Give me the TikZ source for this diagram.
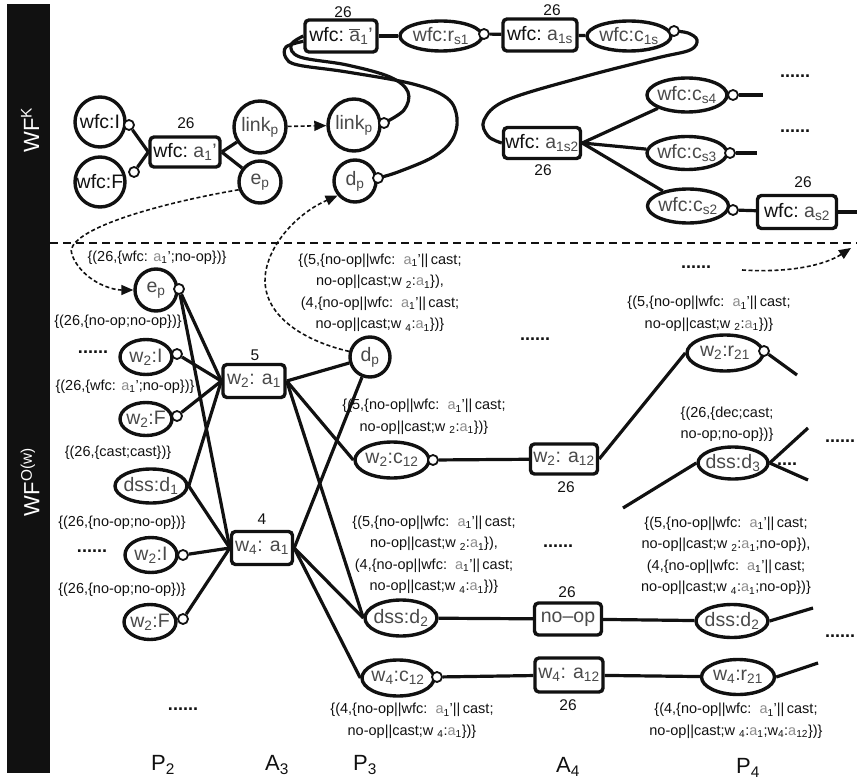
\documentclass[tikz,border=0pt]{standalone}
\usepackage{fontspec}
\setmainfont{Liberation Sans}
\usetikzlibrary{shapes.geometric,arrows.meta,backgrounds}
\definecolor{ink}{HTML}{111111}
\definecolor{ngray}{HTML}{4A4A4A}
\definecolor{lgray}{HTML}{8C8C8C}
\newcommand\sbs[1]{\textsubscript{#1}}
\newcommand\gtx[1]{\textcolor{ngray}{#1}}
\newcommand\aone{\textcolor{lgray}{a}\sbs{1}}
\newcommand\parline{no-op||wfc:\ \ \aone’||\,cast;}
\tikzset{
  every node/.style={inner sep=0pt, text=ink, font=\fontsize{19.5}{22}\selectfont},
  circ/.style={circle, draw=ink, line width=3.4pt, fill=white, minimum size=#1pt},
  oval/.style n args={2}{ellipse, draw=ink, line width=3.4pt, fill=white, inner sep=-5pt,
    minimum width=#1pt, minimum height=#2pt},
  tbox/.style n args={2}{rectangle, rounded corners=4pt, draw=ink, line width=3.4pt,
    fill=white, minimum width=#1pt, minimum height=#2pt},
  port/.style={circle, draw=ink, line width=1.8pt, fill=white, minimum size=10pt},
  conn/.style={draw=ink, line width=3.2pt},
  flow/.style={draw=ink, line width=1.6pt, dash pattern=on 4pt off 2.5pt,
    -{Triangle[length=12pt,width=10pt]}},
  note/.style={font=\fontsize{14.5}{21.5}\selectfont, align=center},
  num/.style={font=\fontsize{15.5}{17}\selectfont},
  dotrow/.style={font=\fontsize{18}{20}\selectfont\bfseries},
  lane/.style={font=\fontsize{22}{24}\selectfont},
  side/.style={rotate=90, text=white, font=\fontsize{22}{24}\selectfont}
}
\begin{document}
\begin{tikzpicture}[x=1pt,y=-1pt]
\useasboundingbox (0,0) rectangle (857,781);

% side bar and lane separator
\fill[ink] (7,4) rectangle (50,773);
\node[side] (wfk) at (30,130) {WF\textsuperscript{K}};
\node[side] (wfo) at (30,482) {WF\textsuperscript{O(w)}};
\draw[ink, line width=1.6pt, dash pattern=on 8pt off 5pt] (50,243) -- (857,243);

% ---------- upper workflow ----------
\node[circ=50] (wfcI) at (100,122) {wfc:I};
\node[circ=50] (wfcF) at (100,182) {wfc:F};
\node[tbox={70}{30}] (ka1) at (185,152) {wfc:\ \gtx{a\sbs{1}’}};
\node[num] (ka1n) at (186,123) {26};
\node[circ=52] (linkA) at (260,127) {\gtx{link\sbs{p}}};
\node[circ=42] (epA) at (260,182) {\gtx{e\sbs{p}}};
\node[circ=52] (linkB) at (354,125) {\gtx{link\sbs{p}}};
\node[circ=42] (dpA) at (355,181) {\gtx{d\sbs{p}}};

\node[tbox={72}{32}] (tA) at (341,36) {wfc:\ \gtx{$\overline{\mbox{a}}$\sbs{1}’}};
\node[num] (tAn) at (343,12) {26};
\node[oval={82}{30}] (rs1) at (441,36) {\gtx{wfc:r\sbs{s1}}};
\node[tbox={74}{32}] (a1s) at (540,35) {wfc:\ \gtx{a\sbs{1s}}};
\node[num] (a1sn) at (552,10) {26};
\node[oval={84}{30}] (c1s) at (629,36) {\gtx{wfc:c\sbs{1s}}};
\node[tbox={77}{31}] (a1s2) at (542,143) {wfc:\ \gtx{a\sbs{1s2}}};
\node[num] (a1s2n) at (543,170) {26};
\node[oval={80}{34}] (cs4) at (687,95) {\gtx{wfc:c\sbs{s4}}};
\node[oval={80}{33}] (cs3) at (687,153) {\gtx{wfc:c\sbs{s3}}};
\node[oval={81}{34}] (cs2) at (688,206) {\gtx{wfc:c\sbs{s2}}};
\node[tbox={79}{33}] (as2) at (797,212) {wfc:\ \gtx{a\sbs{s2}}};
\node[num] (as2n) at (803,182) {26};
\node[dotrow] (dots1) at (795,76) {......};
\node[dotrow] (dots2) at (795,131) {......};

% ---------- lower workflow ----------
\node[circ=42] (epB) at (156,290) {\gtx{e\sbs{p}}};
\node[oval={52}{35}] (w2I) at (146,357) {\gtx{w\sbs{2}:I}};
\node[oval={52}{33}] (w2F) at (146,419) {\gtx{w\sbs{2}:F}};
\node[oval={72}{34}] (d1) at (151,486) {\gtx{dss:d\sbs{1}}};
\node[oval={52}{35}] (w2Ib) at (151,555) {\gtx{w\sbs{2}:I}};
\node[oval={52}{35}] (w2Fb) at (150,622) {\gtx{w\sbs{2}:F}};
\node[tbox={62}{33}] (w2a1) at (254,381) {\gtx{w\sbs{2}: a\sbs{1}}};
\node[num] (w2a1n) at (255,355) {5};
\node[tbox={61}{33}] (w4a1) at (262,548) {\gtx{w\sbs{4}: a\sbs{1}}};
\node[num] (w4a1n) at (262,519) {4};
\node[circ=40] (dpB) at (370,357) {\gtx{d\sbs{p}}};
\node[oval={74}{36}] (w2c12) at (392,460) {\gtx{w\sbs{2}:c\sbs{12}}};
\node[tbox={67}{30}] (w2a12) at (564,459) {\gtx{w\sbs{2}: a\sbs{12}}};
\node[num] (w2a12n) at (566,487) {26};
\node[oval={76}{36}] (w2r21) at (725,353) {\gtx{w\sbs{2}:r\sbs{21}}};
\node[oval={70}{32}] (d3) at (733,463) {\gtx{dss:d\sbs{3}}};
\node[oval={72}{36}] (d2) at (401,618) {\gtx{dss:d\sbs{2}}};
\node[tbox={67}{32}] (noop) at (568,619) {\gtx{no–op}};
\node[num] (noopn) at (567,592) {26};
\node[oval={72}{33}] (d2b) at (732,621) {\gtx{dss:d\sbs{2}}};
\node[oval={72}{36}] (w4c12) at (398,678) {\gtx{w\sbs{4}:c\sbs{12}}};
\node[tbox={68}{34}] (w4a12) at (569,675) {\gtx{w\sbs{4}: a\sbs{12}}};
\node[num] (w4a12n) at (568,705) {26};
\node[oval={73}{35}] (w4r21) at (738,677) {\gtx{w\sbs{4}:r\sbs{21}}};

% connector ports
\node[port] (pI) at (129,125) {};
\node[port] (pF) at (134,172) {};
\node[port] (pLB) at (384,123) {};
\node[port] (pDA) at (378,178) {};
\node[port] (pR) at (484,34) {};
\node[port] (pC) at (674,31) {};
\node[port] (pS4) at (733,95) {};
\node[port] (pS3) at (730,153) {};
\node[port] (pS2) at (733,210) {};
\node[port] (pE) at (179,289) {};
\node[port] (pW2I) at (177,354) {};
\node[port] (pW2F) at (177,416) {};
\node[port] (pW2Ib) at (183,555) {};
\node[port] (pW2Fb) at (183,619) {};
\node[port] (pW2C) at (433,460) {};
\node[port] (pW4C) at (437,677) {};
\node[port] (pW2R) at (764,351) {};

% free line ends
\coordinate (eS4) at (763,95);
\coordinate (eS3) at (757,153);
\coordinate (eA) at (857,212);
\coordinate (eW2R) at (797,375);
\coordinate (sD3) at (623,508);
\coordinate (eD3a) at (808,428);
\coordinate (eD3b) at (808,480);
\coordinate (eD2b) at (813,608);
\coordinate (eW4R) at (818,663);
\coordinate (fS) at (742,270);
\coordinate (fE) at (851,248);

% annotations
\node[note] (n1) at (157,258) {\{(26,\{wfc: \aone’;no-op\})\}};
\node[note] (n2) at (118,322) {\{(26,\{no-op;no-op\})\}};
\node[note] (n3) at (125,387) {\{(26,\{wfc: \aone’;no-op\})\}};
\node[note] (n4) at (118,453) {\{(26,\{cast;cast\})\}};
\node[note] (n5) at (122,523) {\{(26,\{no-op;no-op\})\}};
\node[note] (n6) at (122,590) {\{(26,\{no-op;no-op\})\}};
\node[note] (n7) at (380,293) {\{(5,\{\parline\\ no-op||cast;w\ \sbs{2}:\aone\}),\\
  (4,\{\parline\\ no-op||cast;w\ \sbs{4}:\aone\})\}};
\node[note] (n8) at (424,417) {\{(5,\{\parline\\ no-op||cast;w\ \sbs{2}:\aone\})\}};
\node[note] (n9) at (709,314) {\{(5,\{\parline\\ no-op||cast;w\ \sbs{2}:\aone\})\}};
\node[note] (n10) at (727,424) {\{(26,\{dec;cast;\\ no-op;no-op\})\}};
\node[note] (n11) at (434,555) {\{(5,\{\parline\\ no-op||cast;w\ \sbs{2}:\aone\}),\\
  (4,\{\parline\\ no-op||cast;w\ \sbs{4}:\aone\})\}};
\node[note] (n12) at (726,556) {\{(5,\{\parline\\ no-op||cast;w\ \sbs{2}:\aone;no-op\}),\\
  (4,\{\parline\\ no-op||cast;w\ \sbs{4}:\aone;no-op\})\}};
\node[note] (n13) at (412,721) {\{(4,\{\parline\\ no-op||cast;w\ \sbs{4}:\aone\})\}};
\node[note] (n14) at (736,721) {\{(4,\{\parline\\
  no-op||cast;w\ \sbs{4}:\aone;w\sbs{4}:\textcolor{lgray}{a}\sbs{12}\})\}};

\node[dotrow] (dl1) at (93,352) {......};
\node[dotrow] (dl2) at (92,551) {......};
\node[dotrow] (dl3) at (183,709) {......};
\node[dotrow] (dl4) at (535,339) {......};
\node[dotrow] (dl5) at (558,546) {......};
\node[dotrow] (dl6) at (696,267) {......};
\node[dotrow] (dl7) at (840,441) {......};
\node[dotrow] (dl8) at (840,636) {......};
\node[dotrow] (dl9) at (787,464) {....};

% lane labels
\node[lane] (lP2) at (163,765) {P\sbs{2}};
\node[lane] (lA3) at (277,765) {A\sbs{3}};
\node[lane] (lP3) at (365,765) {P\sbs{3}};
\node[lane] (lA4) at (568,767) {A\sbs{4}};
\node[lane] (lP4) at (748,768) {P\sbs{4}};

% ---------- connectors ----------
\begin{scope}[on background layer]
  % upper workflow
  \draw[conn] (ka1.west) -- (pI);
  \draw[conn] (ka1.west) -- (pF);
  \draw[conn] (ka1.east) -- (linkA);
  \draw[conn] (ka1.east) -- (epA);
  \draw[conn] (tA) -- (rs1);
  \draw[conn] (pR) -- (a1s);
  \draw[conn] (a1s) -- (c1s);
  \draw[conn] plot[smooth, tension=0.6] coordinates {(tA.west) (291,45) (300,57)
    (347,65) (390,77) (408,92) (404,110) (pLB)};
  \draw[conn] plot[smooth, tension=0.6] coordinates {(tA.188) (286,47) (286,58)
    (298,65) (347,72) (413,84) (447,98) (457,118) (452,140) (433,157) (398,172) (pDA)};
  \draw[conn] plot[smooth, tension=0.6] coordinates {(pC) (688,33) (697,40)
    (690,50) (657,58) (583,77) (507,100) (484,120) (488,136) (a1s2.west)};
  \draw[conn] (a1s2.east) -- (cs4);
  \draw[conn] (a1s2.east) -- (cs3);
  \draw[conn] (a1s2.east) -- (cs2);
  \draw[conn] (pS4) -- (eS4);
  \draw[conn] (pS3) -- (eS3);
  \draw[conn] (pS2) -- (as2);
  \draw[conn] (as2.east) -- (eA);
  % lower workflow
  \draw[conn] (pE) -- (w2a1.west);
  \draw[conn] (pE) -- (w4a1.west);
  \draw[conn] (pW2I) -- (w2a1.west);
  \draw[conn] (pW2F) -- (w2a1.west);
  \draw[conn] (d1.east) -- (w2a1.west);
  \draw[conn] (d1.east) -- (w4a1.west);
  \draw[conn] (pW2Ib) -- (w4a1.west);
  \draw[conn] (pW2Fb) -- (w4a1.west);
  \draw[conn] (w2a1.east) -- (dpB);
  \draw[conn] (w2a1.east) -- (w2c12.west);
  \draw[conn] (w2a1.east) -- (d2.west);
  \draw[conn] (w4a1.east) -- (dpB);
  \draw[conn] (w4a1.east) -- (d2.west);
  \draw[conn] (w4a1.east) -- (w4c12.west);
  \draw[conn] (pW2C) -- (w2a12);
  \draw[conn] (d2) -- (noop);
  \draw[conn] (pW4C) -- (w4a12);
  \draw[conn] (noop) -- (d2b);
  \draw[conn] (w4a12) -- (w4r21);
  \draw[conn] (w2a12.east) -- (w2r21.west);
  \draw[conn] (pW2R) -- (eW2R);
  \draw[conn] (sD3) -- (d3.west);
  \draw[conn] (d3.east) -- (eD3a);
  \draw[conn] (d3.east) -- (eD3b);
  \draw[conn] (d2b.east) -- (eD2b);
  \draw[conn] (w4r21.east) -- (eW4R);
\end{scope}

% data flows between the workflows
\draw[flow] (linkA) -- (linkB);
\draw[flow] (epA.200) .. controls (150,205) and (62,232) .. (72,255)
  .. controls (82,280) and (110,290) .. (epB.west);
\draw[flow] (dpB.165) .. controls (300,340) and (258,312) .. (266,270)
  .. controls (272,240) and (300,212) .. (dpA.220);
\draw[flow] (fS) .. controls (790,273) and (825,265) .. (fE);
\end{tikzpicture}
\end{document}
